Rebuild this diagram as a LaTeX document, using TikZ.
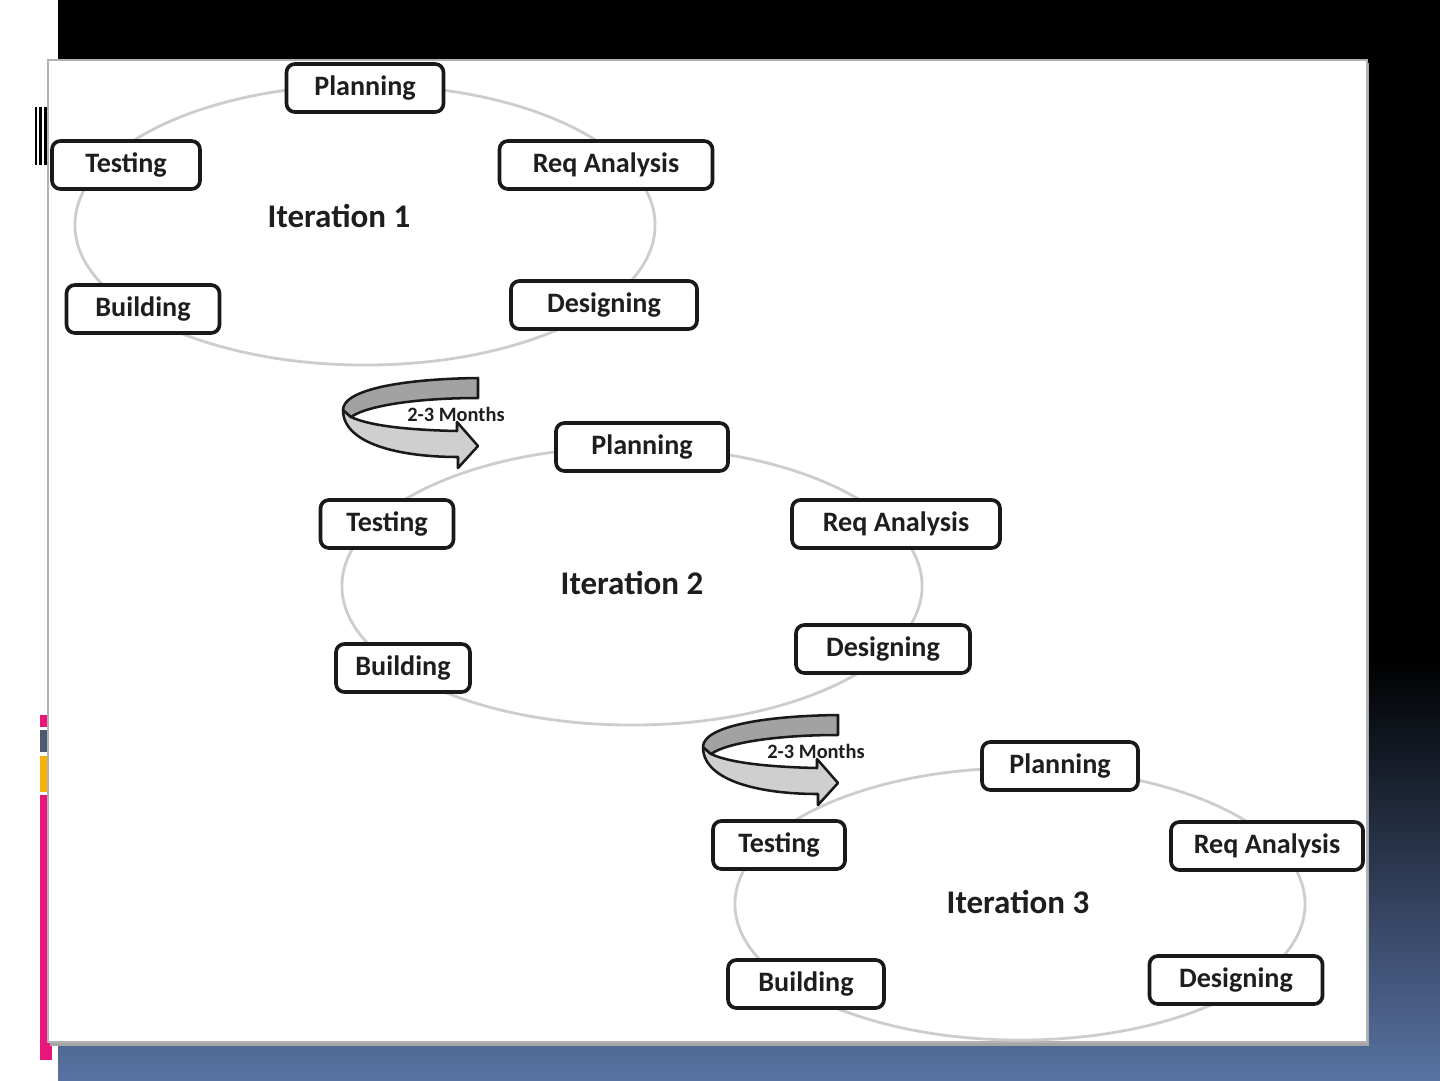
\documentclass[tikz,border=0pt]{standalone}
\usepackage{fontspec}
\setmainfont{Carlito}
\usetikzlibrary{shapes.geometric}
\definecolor{pinkbar}{HTML}{E8157A}
\definecolor{greybar}{HTML}{4A5A70}
\definecolor{yellowbar}{HTML}{F5B30A}
\definecolor{bgblue}{HTML}{5872A2}
\definecolor{ringgrey}{HTML}{CDCDCD}
\definecolor{bandtop}{HTML}{A2A2A2}
\definecolor{bandbot}{HTML}{CFCFCF}
\definecolor{inktext}{HTML}{1E1E1E}
\begin{document}
\begin{tikzpicture}[x=0.025cm,y=-0.025cm,
  phase/.style={draw=black!90, line width=2.6pt, rounded corners=6pt, fill=white,
    font=\bfseries\fontsize{20}{24}\selectfont, text=inktext, minimum height=1.2cm, inner sep=0pt},
  cyc/.style={ellipse, draw=ringgrey, line width=2pt, inner sep=0pt},
  iter/.style={font=\bfseries\fontsize{23.5}{28}\selectfont, text=inktext},
  band/.style={draw=black!90, line width=1.8pt, line join=round},
  months/.style={font=\bfseries\fontsize{14.5}{16}\selectfont, text=inktext, inner sep=0pt}]
\useasboundingbox (0,0) rectangle (1440,1080);
% background
\fill[white] (0,0) rectangle (1440,1080);
\fill[black] (58,0) rectangle (1440,660);
\shade[top color=black, bottom color=bgblue] (58,659) rectangle (1440,1080);
% side decorations
\fill[black] (35,107) rectangle (36.5,165);
\fill[black] (38.5,107) rectangle (41.5,165);
\fill[black] (43.5,107) rectangle (47.5,165);
\fill[pinkbar] (40,715) rectangle (52,727);
\fill[greybar] (40,730) rectangle (52,752);
\fill[yellowbar] (40,756) rectangle (52,792);
\fill[pinkbar] (40,795) rectangle (52,1060);
% panel
\fill[black!35] (50,63) rectangle (1369,1046);
\fill[white, draw=black!30, line width=0.8pt] (48,60) rectangle (1367,1042);

% cycles
\node[cyc, minimum width=14.5cm, minimum height=7cm] (c1) at (365,225) {};
\node[cyc, minimum width=14.5cm, minimum height=6.95cm] (c2) at (632,586) {};
\node[cyc, minimum width=14.25cm, minimum height=6.8cm] (c3) at (1020,904) {};

% ribbon arrows
\foreach \dx/\dy/\nm in {0/0/a1, 360/337/a2}{
  \begin{scope}[shift={(\dx,\dy)}]
    \filldraw[band, fill=bandbot] (343,410) .. controls (343,444) and (400,457) .. (458,457)
      -- (458,468) -- (478,446) -- (457,422) -- (457,431)
      .. controls (410,430) and (370,426) .. (351,417) -- cycle;
    \filldraw[band, fill=bandtop] (478,378) .. controls (400,379) and (343,390) .. (343,410)
      -- (351,417) .. controls (368,405) and (420,398) .. (478,398) -- cycle;
    \node[months] (\nm) at (456,414) {2-3 Months};
  \end{scope}
}

% iteration 1
\node[iter] (it1) at (339,216) {Iteration 1};
\node[phase, minimum width=3.925cm] (p1) at (365,88) {Planning};
\node[phase, minimum width=5.325cm] (r1) at (606,165) {Req Analysis};
\node[phase, minimum width=4.65cm] (d1) at (604,305) {Designing};
\node[phase, minimum width=3.825cm] (b1) at (143,309) {Building};
\node[phase, minimum width=3.7cm] (t1) at (126,165) {Testing};

% iteration 2
\node[iter] (it2) at (632,583) {Iteration 2};
\node[phase, minimum width=4.3cm] (p2) at (642,447) {Planning};
\node[phase, minimum width=5.2cm] (r2) at (896,524) {Req Analysis};
\node[phase, minimum width=4.35cm] (d2) at (883,649) {Designing};
\node[phase, minimum width=3.35cm] (b2) at (403,668) {Building};
\node[phase, minimum width=3.325cm] (t2) at (387,524) {Testing};

% iteration 3
\node[iter] (it3) at (1018,902) {Iteration 3};
\node[phase, minimum width=3.9cm] (p3) at (1060,766) {Planning};
\node[phase, minimum width=4.8cm] (r3) at (1267,846) {Req Analysis};
\node[phase, minimum width=4.325cm] (d3) at (1236,980) {Designing};
\node[phase, minimum width=3.9cm] (b3) at (806,984) {Building};
\node[phase, minimum width=3.3cm] (t3) at (779,845) {Testing};
\end{tikzpicture}
\end{document}
